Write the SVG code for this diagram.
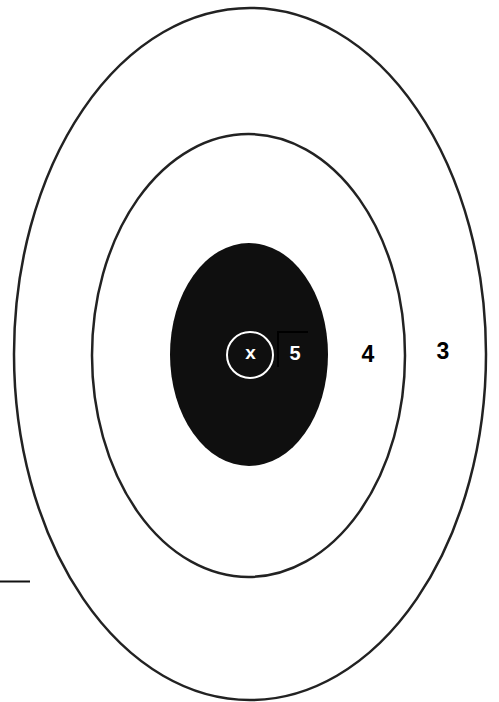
<svg xmlns="http://www.w3.org/2000/svg" width="499" height="702" viewBox="0 0 499 702">
<style>
.ring{fill:none;stroke:#222;stroke-width:2.5}
.lbl{font-family:"Liberation Sans",Arial,sans-serif;font-weight:bold;text-anchor:middle}
</style>
<rect width="499" height="702" fill="#fff"/>
<g id="ring3"><ellipse class="ring" cx="250" cy="354" rx="236" ry="346"/></g>
<g id="ring4"><ellipse class="ring" cx="248.5" cy="355.5" rx="156.5" ry="221.5"/></g>
<g id="ring5"><ellipse cx="249" cy="354.5" rx="79" ry="111.5" fill="#0f0f0f"/></g>
<g id="xring"><circle cx="250" cy="355" r="23" fill="none" stroke="#fff" stroke-width="2"/>
<text class="lbl" x="250.5" y="358.5" font-size="19" fill="#fff">x</text></g>
<g id="corner"><path d="M278 367 V332 H308" fill="none" stroke="#000" stroke-width="2"/></g>
<g id="labels">
<text class="lbl" x="295" y="359.5" font-size="20" fill="#fff">5</text>
<text class="lbl" x="368" y="361.5" font-size="23" fill="#000">4</text>
<text class="lbl" x="443" y="358.5" font-size="23" fill="#000">3</text>
</g>
<g id="connectors"><line x1="0" y1="581.5" x2="30" y2="581.5" stroke="#111" stroke-width="2"/></g>
</svg>
